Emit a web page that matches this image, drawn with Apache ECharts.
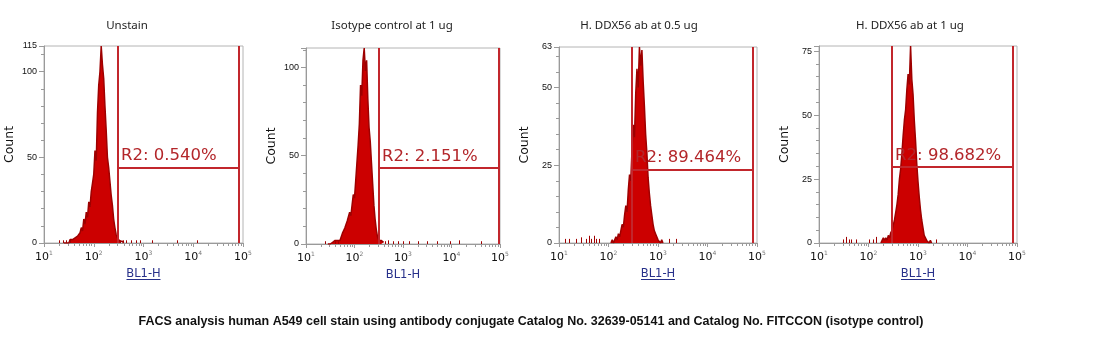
<!DOCTYPE html>
<html>
<head>
<meta charset="utf-8">
<title>FACS analysis</title>
<script src="https://cdn.jsdelivr.net/npm/echarts@6/dist/echarts.min.js"></script>
<style>
  html, body { margin: 0; padding: 0; background: #fff; }
  #chart { width: 1095px; height: 353px; }
</style>
</head>
<body>
<div id="chart"></div>
<script>
// panel titles and gate labels
const titles = ['Unstain', 'Isotype control at 1 ug', 'H. DDX56 ab at 0.5 ug', 'H. DDX56 ab at 1 ug'];
const gateText = ['R2: 0.540%', 'R2: 2.151%', 'R2: 89.464%', 'R2: 98.682%'];

// y axis ranges (counts)
const yMax = [115, 111, 63, 77];
const yStep = [50, 50, 25, 25];
const showTop = [true, false, true, false];

// gate R2: left edge, right edge, height of the bar
const gateLo = [307, 320, 298, 300];
const gateHi = [83000, 95000, 83000, 83000];
const gateY = [44, 43, 23.7, 29.7];

// histogram: first bin (log10 of BL1-H) and counts per bin, bin width 0.025 decade
const BIN = 0.025;
const histStart = [1.40, 1.45, 2.05, 2.25];
const counts1 = [0, 1, 0, 1, 0, 2, 1, 2, 1, 3, 2, 4, 3, 6, 9, 7, 14, 11, 18, 15, 24, 21, 30, 35, 40, 54, 48, 76, 92, 100,
  115, 104, 96, 80, 66, 50, 44, 36, 28, 22, 14, 9, 5, 3, 2, 1, 0, 1, 0];
const counts2 = [0, 1, 0, 1, 1, 0, 2, 1, 2, 3, 2, 4, 6, 5, 9, 8, 13, 12, 18, 16, 22, 28, 26, 36, 46, 56, 68, 90, 84, 104,
  111, 98, 104, 82, 66, 58, 46, 34, 22, 14, 8, 4, 2, 1, 2, 1, 1];
const counts3 = [0, 1, 0, 1, 2, 1, 3, 2, 4, 6, 5, 9, 12, 10, 17, 22, 20, 30, 38, 34, 48, 56, 50, 63, 57, 62, 52, 44, 35, 29,
  21, 16, 12, 9, 6, 4, 3, 2, 1, 1, 0, 1, 0];
const counts4 = [0, 1, 2, 1, 2, 1, 3, 2, 4, 5, 7, 9, 12, 15, 19, 25, 29, 35, 42, 48, 52, 60, 66, 62, 77, 64, 58, 48, 40, 31,
  24, 18, 13, 9, 6, 3, 2, 1, 1, 0, 1, 0];
const counts = [counts1, counts2, counts3, counts4];

// scattered single events outside the main peak: [BL1-H, count]
const stray1 = [[20, 1], [24, 1], [28, 1], [34, 1.5], [340, 1], [380, 1], [450, 1], [560, 1], [700, 1], [850, 1], [1500, 1], [4700, 1], [12000, 1]];
const stray2 = [[25, 1], [40, 1], [45, 1], [420, 1], [500, 1.5], [620, 1], [780, 1], [1000, 1], [1300, 1], [2000, 1], [3200, 1], [5000, 1], [9500, 1], [14000, 1.5], [40000, 1]];
const stray3 = [[13, 1], [16, 1], [22, 1], [28, 1.5], [35, 1], [40, 2], [45, 1], [50, 2], [56, 1], [63, 1], [1700, 1], [2300, 1]];
const stray4 = [[31, 1], [35, 2], [40, 1], [45, 1], [56, 1], [100, 1], [126, 1], [141, 2], [2300, 1]];
const stray = [stray1, stray2, stray3, stray4];

// log minor tick values on BL1-H
const minorTicks = [20, 30, 40, 50, 60, 70, 80, 90, 200, 300, 400, 500, 600, 700, 800, 900,
  2000, 3000, 4000, 5000, 6000, 7000, 8000, 9000, 20000, 30000, 40000, 50000, 60000, 70000, 80000, 90000];

// plot boxes
const grids = [
  { left: 44, top: 46, width: 199, height: 197 },
  { left: 306, top: 48, width: 194, height: 196 },
  { left: 559, top: 47, width: 198, height: 196 },
  { left: 819, top: 46, width: 198, height: 197 }
];
const titleX = [127, 392, 639, 910];
const underline = [true, false, true, true];

const AXIS = '#9a9a9a';
const GATE = '#c2262c';
const NAVY = '#27308a';

function histData(k) {
  return counts[k].map((c, i) => [Math.pow(10, histStart[k] + i * BIN), c]);
}

const option = {
  backgroundColor: '#fff',
  animation: false,
  grid: grids.map(g => Object.assign({ show: true, borderColor: '#b4b4b4', borderWidth: 1, backgroundColor: 'transparent' }, g)),
  xAxis: grids.map((g, k) => ({
    type: 'log', logBase: 10, min: 10, max: 100000, gridIndex: k,
    name: 'BL1-H', nameLocation: 'middle', nameGap: 25,
    nameTextStyle: { color: NAVY, fontSize: 11.5, fontFamily: 'DejaVu Sans' },
    axisLine: { lineStyle: { color: AXIS } },
    axisTick: { length: 4, lineStyle: { color: AXIS } },
    splitLine: { show: false },
    axisLabel: {
      margin: 7, color: '#111',
      formatter: v => '{b|10}{s|' + Math.round(Math.log10(v)) + '}',
      rich: {
        b: { fontSize: 11, fontFamily: 'DejaVu Sans', color: '#111' },
        s: { fontSize: 6, fontFamily: 'DejaVu Sans', color: '#777', verticalAlign: 'top', padding: [0, 0, 8, 0] }
      }
    }
  })),
  yAxis: grids.map((g, k) => ({
    type: 'value', min: 0, max: yMax[k], interval: yStep[k], gridIndex: k,
    name: 'Count', nameLocation: 'middle', nameGap: 28, nameRotate: 90,
    nameTextStyle: { color: '#111', fontSize: 12.5, fontFamily: 'DejaVu Sans' },
    axisLine: { show: true, lineStyle: { color: AXIS } },
    axisTick: { show: true, length: 5, lineStyle: { color: AXIS } },
    minorTick: { show: true, splitNumber: 5, length: 3, lineStyle: { color: AXIS } },
    splitLine: { show: false },
    axisLabel: { margin: 7, fontSize: 9, fontFamily: 'Liberation Sans', color: '#111', showMaxLabel: showTop[k] }
  })),
  series: []
};

grids.forEach((g, k) => {
  option.series.push({
    type: 'line', xAxisIndex: k, yAxisIndex: k, data: histData(k),
    showSymbol: false, silent: true, z: 2,
    lineStyle: { color: '#9e0000', width: 1.5 },
    areaStyle: { color: '#cc0000', opacity: 1 },
    markLine: {
      silent: true, symbol: ['none', 'none'], animation: false,
      lineStyle: { color: GATE, width: 2, type: 'solid' },
      label: { show: false },
      emphasis: { disabled: true },
      data: [
        [{ coord: [gateLo[k], 0] }, { coord: [gateLo[k], yMax[k]] }],
        [{ coord: [gateHi[k], 0] }, { coord: [gateHi[k], yMax[k]] }],
        [{
          coord: [gateLo[k], gateY[k]],
          label: {
            show: true, position: 'insideStartTop', distance: 3,
            formatter: gateText[k], color: '#b3262a', fontSize: 16.5, fontFamily: 'DejaVu Sans'
          }
        }, { coord: [gateHi[k], gateY[k]] }]
      ]
    }
  });
  option.series.push({
    type: 'custom', xAxisIndex: k, yAxisIndex: k, silent: true, z: 2,
    data: stray[k],
    encode: { x: 0, y: 1 },
    renderItem: (params, api) => {
      const a = api.coord([api.value(0), 0]);
      const b = api.coord([api.value(0), api.value(1)]);
      const x = Math.round(a[0]) + 0.5;
      return { type: 'line', shape: { x1: x, y1: a[1], x2: x, y2: b[1] - 1 }, style: { stroke: '#a00000', lineWidth: 1 } };
    }
  });
  option.series.push({
    type: 'custom', xAxisIndex: k, yAxisIndex: k, silent: true, z: 1,
    data: minorTicks.map(v => [v, 0]),
    encode: { x: 0, y: 1 },
    renderItem: (params, api) => {
      const a = api.coord([api.value(0), 0]);
      const x = Math.round(a[0]) + 0.5;
      return { type: 'line', shape: { x1: x, y1: a[1], x2: x, y2: a[1] + 3 }, style: { stroke: AXIS, lineWidth: 1 } };
    }
  });
});

const graphics = [];
titles.forEach((t, k) => {
  graphics.push({
    type: 'text', x: titleX[k], y: 26,
    style: { text: t, fill: '#222', fontSize: 11.5, fontFamily: 'Noto Sans', textAlign: 'center', textVerticalAlign: 'middle' }
  });
  if (underline[k]) {
    const cx = grids[k].left + grids[k].width / 2;
    graphics.push({
      type: 'line', shape: { x1: cx - 17, y1: 279.5, x2: cx + 17, y2: 279.5 },
      style: { stroke: NAVY, lineWidth: 1 }
    });
  }
});
graphics.push({
  type: 'text', x: 531, y: 322,
  style: {
    text: 'FACS analysis human A549 cell stain using antibody conjugate Catalog No. 32639-05141 and Catalog No. FITCCON (isotype control)',
    fill: '#111', fontSize: 12.5, fontWeight: 'bold', fontFamily: 'Liberation Sans Narrow, Liberation Sans',
    textAlign: 'center', textVerticalAlign: 'middle'
  }
});
option.graphic = graphics;

const chart = echarts.init(document.getElementById('chart'), null, { renderer: 'canvas' });
chart.setOption(option);
</script>
</body>
</html>
